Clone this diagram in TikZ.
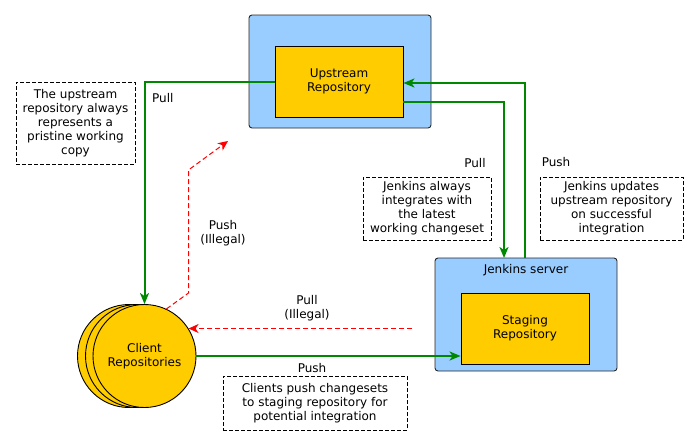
\documentclass[tikz,border=0pt]{standalone}
\usepackage{fontspec}
\setmainfont{DejaVu Sans}
\usetikzlibrary{arrows.meta}
\definecolor{boxblue}{RGB}{153,204,255}
\definecolor{repoyellow}{RGB}{255,204,0}
\definecolor{flowgreen}{RGB}{0,136,0}
\tikzset{
  base/.style={font=\fontsize{12}{14}\selectfont, align=center, inner sep=0pt},
  server/.style={base, draw=black!85, fill=boxblue, rounded corners=3pt, line width=0.9pt},
  repo/.style={base, draw=black, fill=repoyellow, line width=0.9pt},
  client/.style={base, circle, draw=black, fill=repoyellow, line width=0.9pt, minimum size=103pt},
  note/.style={base, draw=black, dash pattern=on 4pt off 2pt, line width=0.8pt},
  lbl/.style={base},
  okflow/.style={draw=flowgreen, line width=2pt, -{Stealth[length=11pt,width=9pt,inset=3pt]}},
  badflow/.style={draw=red, line width=1pt, dash pattern=on 5pt off 3pt, -{Stealth[length=10pt,width=9pt,inset=3pt]}},
}
\begin{document}
\begin{tikzpicture}[x=1pt,y=-1pt]
\useasboundingbox (0,0) rectangle (698,445);
% containers
\node[server, minimum width=182pt, minimum height=113pt] (upOuter) at (340,71.5) {};
\node[repo, minimum width=128pt, minimum height=71pt] (upInner) at (339,81.5) {Upstream\\Repository};
\node[server, minimum width=182pt, minimum height=113pt] (jenOuter) at (526,314.5) {};
\node[lbl] (jenLabel) at (526,270) {Jenkins server};
\node[repo, minimum width=128pt, minimum height=71pt] (staging) at (525,328.5) {Staging\\Repository};
% client stack
\node[client] (clientC) at (129,356) {};
\node[client] (clientB) at (137,356) {};
\node[client] (client) at (144.5,356) {Client\\Repositories};
% notes
\node[note, minimum width=119pt, minimum height=82pt] (note1) at (75.5,123) {The upstream\\repository always\\represents a\\pristine working\\copy};
\node[note, minimum width=128pt, minimum height=63pt] (note2) at (427,208.5) {Jenkins always\\integrates with\\the latest\\working changeset};
\node[note, minimum width=143pt, minimum height=63pt] (note3) at (611.5,208.5) {Jenkins updates\\upstream repository\\on successful\\integration};
\node[note, minimum width=184pt, minimum height=54pt] (note4) at (315,403) {Clients push changesets\\to staging repository for\\potential integration};
% connector points
\coordinate (pullJ) at (504,258);
\coordinate (pushJ) at (525,258);
\coordinate (illA) at (188.5,293);
\coordinate (illB) at (188.5,170);
\coordinate (illEnd) at (228,141);
\coordinate (pullIll) at (412,328.5);
% green flows
\draw[okflow] (upInner.west) -| (client.north);
\draw[okflow] ([yshift=-20.5pt]upInner.east) -| (pullJ);
\draw[okflow] (pushJ) |- ([yshift=-1.5pt]upInner.east);
\draw[okflow] (client.east) -- (client.east -| staging.west);
% red illegal flows
\draw[badflow] (client.65) -- (illA) -- (illB) -- (illEnd);
\draw[badflow] (pullIll) -- (pullIll -| client.32);
% labels
\node[lbl, anchor=west] (lPull1) at (152,98) {Pull};
\node[lbl] (lPushIll) at (223,233) {Push\\(Illegal)};
\node[lbl] (lPull2) at (475,163) {Pull};
\node[lbl] (lPush2) at (556,162) {Push};
\node[lbl] (lPullIll) at (307,308) {Pull\\(Illegal)};
\node[lbl] (lPush3) at (312,368) {Push};
\end{tikzpicture}
\end{document}
